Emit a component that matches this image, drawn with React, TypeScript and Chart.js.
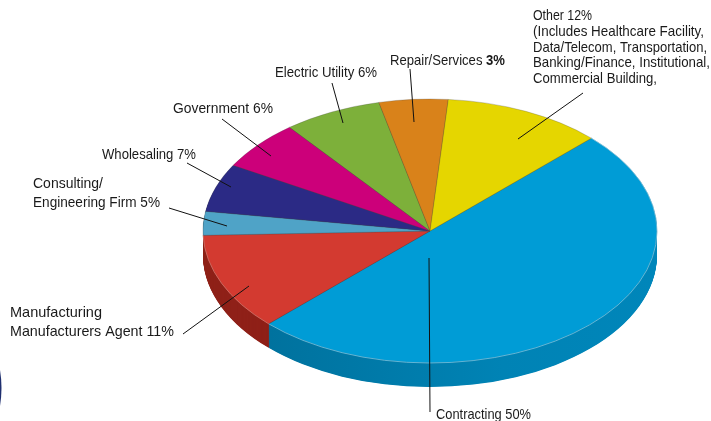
import React, { useEffect, useRef } from "react";
import { Chart, registerables } from "chart.js";

Chart.register(...registerables);

const categories = [
  "Contracting",
  "Manufacturing / Manufacturers Agent",
  "Consulting/Engineering Firm",
  "Wholesaling",
  "Government",
  "Electric Utility",
  "Repair/Services",
  "Other",
];
// Visual slice shares as drawn in the picture (its printed labels differ slightly)
const drawnShares = [50, 11.9, 2.9, 5.9, 6.1, 7, 4.9, 11.3];
const topColors = ["#009cd6", "#d33a30", "#4fa3c7", "#2b2a85", "#cc007a", "#7db03a", "#d9821a", "#e5d600"];
const wallColors = ["#0082b4", "#8f2018", "#3c7c98", "#1d1c5c", "#8c0054", "#56792a", "#955912", "#9d9300"];

const FONT = '15px "Liberation Sans", sans-serif';
const BOLD = 'bold 15px "Liberation Sans", sans-serif';

type Part = { t: string; bold?: boolean };
const labelLines: { x: number; y: number; w: number; parts: Part[] }[] = [
  { x: 533, y: 16, w: 59, parts: [{ t: "Other 12%" }] },
  { x: 533, y: 32, w: 171, parts: [{ t: "(Includes Healthcare Facility," }] },
  { x: 533, y: 48, w: 174, parts: [{ t: "Data/Telecom, Transportation," }] },
  { x: 533, y: 63, w: 177, parts: [{ t: "Banking/Finance, Institutional," }] },
  { x: 533, y: 79, w: 124, parts: [{ t: "Commercial Building," }] },
  { x: 390, y: 61, w: 115, parts: [{ t: "Repair/Services " }, { t: "3%", bold: true }] },
  { x: 275, y: 73, w: 102, parts: [{ t: "Electric Utility 6%" }] },
  { x: 173, y: 109, w: 100, parts: [{ t: "Government 6%" }] },
  { x: 102, y: 155, w: 94, parts: [{ t: "Wholesaling 7%" }] },
  { x: 33, y: 184, w: 70, parts: [{ t: "Consulting/" }] },
  { x: 33, y: 203, w: 127, parts: [{ t: "Engineering Firm 5%" }] },
  { x: 10, y: 313, w: 92, parts: [{ t: "Manufacturing" }] },
  { x: 10, y: 332, w: 164, parts: [{ t: "Manufacturers Agent 11%" }] },
  { x: 436, y: 415, w: 95, parts: [{ t: "Contracting 50%" }] },
];
const leaders = [
  [583, 93, 518, 139],
  [410, 69, 414, 122],
  [332, 83, 343, 123],
  [222, 119, 271, 156],
  [187, 163, 231, 187],
  [169, 208, 227, 226],
  [183, 334, 249, 286],
  [429, 258, 430, 412],
];

const CX = 430;
const CY = 231;
const RX = 227;
const RY = 132;
const DEPTH = 24;
const K = RY / RX;

const pie3d = {
  id: "pie3d",
  beforeDatasetsDraw(chart: any) {
    const ctx: CanvasRenderingContext2D = chart.ctx;
    const arcs = chart.getDatasetMeta(0).data;
    // corner fragment of a neighbouring figure
    ctx.save();
    ctx.fillStyle = "#1f2f6f";
    ctx.beginPath();
    ctx.arc(-106.5, 388, 108, 0, Math.PI * 2);
    ctx.fill();
    ctx.restore();
    for (let d = DEPTH; d >= 1; d -= 0.5) {
      ctx.save();
      ctx.translate(0, CY + d);
      ctx.scale(1, K);
      ctx.translate(0, -CY);
      arcs.forEach((arc: any, i: number) => {
        const p = arc.getProps(["x", "y", "startAngle", "endAngle", "outerRadius"], true);
        let fill: any = wallColors[i];
        if (i === 0) {
          const g = ctx.createLinearGradient(270, 0, 656, 0);
          g.addColorStop(0, "#00729e");
          g.addColorStop(0.6, "#0083b5");
          g.addColorStop(1, "#0086ba");
          fill = g;
        }
        ctx.fillStyle = fill;
        ctx.beginPath();
        ctx.moveTo(p.x, p.y);
        ctx.arc(p.x, p.y, p.outerRadius, p.startAngle, p.endAngle);
        ctx.closePath();
        ctx.fill();
      });
      ctx.restore();
    }
    ctx.save();
    ctx.translate(0, CY);
    ctx.scale(1, K);
    ctx.translate(0, -CY);
  },
  afterDatasetsDraw(chart: any) {
    const ctx: CanvasRenderingContext2D = chart.ctx;
    const arcs = chart.getDatasetMeta(0).data;
    // light rim on the two slices whose wall is visible
    [0, 1].forEach((i) => {
      const p = arcs[i].getProps(["x", "y", "startAngle", "endAngle", "outerRadius"], true);
      ctx.strokeStyle = i === 0 ? "rgba(130,205,235,0.9)" : "rgba(235,130,120,0.8)";
      ctx.lineWidth = 1;
      ctx.beginPath();
      ctx.arc(p.x, p.y, p.outerRadius, p.startAngle, p.endAngle);
      ctx.stroke();
    });
    ctx.restore();
    ctx.save();
    ctx.strokeStyle = "#111";
    ctx.lineWidth = 1;
    leaders.forEach(([x1, y1, x2, y2]) => {
      ctx.beginPath();
      ctx.moveTo(x1, y1);
      ctx.lineTo(x2, y2);
      ctx.stroke();
    });
    ctx.fillStyle = "#1a1a1a";
    ctx.textBaseline = "middle";
    ctx.textAlign = "left";
    labelLines.forEach(({ x, y, w, parts }) => {
      let natural = 0;
      parts.forEach((part) => {
        ctx.font = part.bold ? BOLD : FONT;
        natural += ctx.measureText(part.t).width;
      });
      ctx.save();
      ctx.translate(x, y);
      ctx.scale(w / natural, 1);
      let px = 0;
      parts.forEach((part) => {
        ctx.font = part.bold ? BOLD : FONT;
        ctx.fillText(part.t, px, 0);
        px += ctx.measureText(part.t).width;
      });
      ctx.restore();
    });
    ctx.restore();
  },
};

export default function App() {
  const ref = useRef<HTMLCanvasElement>(null);
  useEffect(() => {
    document.body.style.margin = "0";
    const chart = new Chart(ref.current!, {
      type: "pie",
      data: {
        labels: categories,
        datasets: [
          {
            data: drawnShares,
            backgroundColor: topColors,
            borderColor: "rgba(70,70,70,0.55)",
            borderWidth: 0.6,
            clip: false,
          } as any,
        ],
      },
      options: {
        responsive: false,
        animation: false,
        rotation: 45.3,
        radius: RX,
        layout: { padding: { left: 2 * CX - 711, top: 421 - 2 * (421 - CY), right: 0, bottom: 0 } },
        plugins: { legend: { display: false }, tooltip: { enabled: false } },
      } as any,
      plugins: [pie3d as any],
    });
    return () => chart.destroy();
  }, []);
  return <canvas ref={ref} width={711} height={421} style={{ display: "block" }} />;
}
